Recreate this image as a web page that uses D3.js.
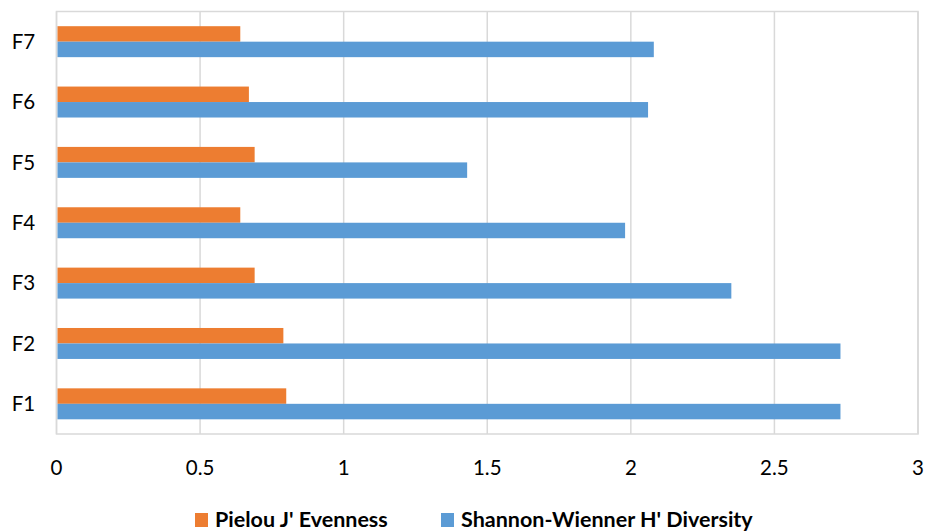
<!DOCTYPE html>
<meta charset="utf-8">
<head>
	<script src="https://d3js.org/d3.v7.min.js"></script>
</head>
<style type="text/css">
	body {
		margin: 0;
		background: #fff;
		font-family: Lato, "Open Sans", sans-serif;
	}
	svg { display: block; }
	.grid line { stroke: #d9d9d9; stroke-width: 1.5px; }
	.frame { fill: none; stroke: #d9d9d9; stroke-width: 1.5px; }
	.tick-label { font-size: 20.5px; fill: #000; }
	.legend text { font-size: 21.5px; font-weight: bold; fill: #000; }
</style>
<body>
<script>
	// sites, bottom to top
	var sites = ["F1", "F2", "F3", "F4", "F5", "F6", "F7"];
	var evenness = [0.80, 0.79, 0.69, 0.64, 0.69, 0.67, 0.64];
	var diversity = [2.73, 2.73, 2.35, 1.98, 1.43, 2.06, 2.08];
	var xTicks = [0, 0.5, 1, 1.5, 2, 2.5, 3];
	var seriesNames = ["Pielou J' Evenness", "Shannon-Wienner H' Diversity"];
	var colors = ["#ed7d31", "#5b9bd5"];

	var width = 926, height = 531;
	var margin = {top: 11.5, right: 8, bottom: 97, left: 56.5};
	var w = width - margin.left - margin.right,
		h = height - margin.top - margin.bottom;

	var svg = d3.select("body").append("svg")
		.attr("width", width)
		.attr("height", height);

	var g = svg.append("g")
		.attr("transform", "translate(" + margin.left + "," + margin.top + ")");

	var x = d3.scaleLinear().domain([0, 3]).range([0, w]);

	// top to bottom: F7 ... F1
	var y = d3.scaleBand()
		.domain(sites.slice().reverse())
		.range([0, h])
		.paddingInner(0.487)
		.paddingOuter(0.2435);

	var inner = d3.scaleBand()
		.domain([0, 1])
		.range([0, y.bandwidth()]);

	// vertical gridlines
	g.append("g").attr("class", "grid")
		.selectAll("line")
		.data(xTicks)
		.enter().append("line")
		.attr("x1", function(d) { return x(d); })
		.attr("x2", function(d) { return x(d); })
		.attr("y1", 0)
		.attr("y2", h);

	g.append("rect").attr("class", "frame")
		.attr("x", 0).attr("y", 0)
		.attr("width", w).attr("height", h);

	var rows = sites.map(function(s, i) {
		return {site: s, vals: [evenness[i], diversity[i]]};
	});

	var group = g.selectAll(".site")
		.data(rows)
		.enter().append("g")
		.attr("class", "site")
		.attr("transform", function(d) { return "translate(0," + y(d.site) + ")"; });

	group.selectAll("rect")
		.data(function(d) { return d.vals; })
		.enter().append("rect")
		.attr("x", x(0) + 1)
		.attr("y", function(d, i) { return inner(i); })
		.attr("height", inner.bandwidth())
		.attr("width", function(d) { return x(d) - x(0) - 1; })
		.style("fill", function(d, i) { return colors[i]; });

	// category labels
	g.selectAll(".cat")
		.data(sites)
		.enter().append("text")
		.attr("class", "tick-label cat")
		.attr("x", -33)
		.attr("y", function(d) { return y(d) + y.bandwidth() / 2; })
		.attr("dy", "0.35em")
		.attr("text-anchor", "middle")
		.text(function(d) { return d; });

	// x tick labels
	g.selectAll(".xt")
		.data(xTicks)
		.enter().append("text")
		.attr("class", "tick-label xt")
		.attr("x", function(d) { return x(d); })
		.attr("y", h + 40.5)
		.attr("text-anchor", "middle")
		.text(function(d) { return d; });

	// legend
	var legend = svg.append("g").attr("class", "legend");
	var legendX = [195, 441];
	seriesNames.forEach(function(name, i) {
		legend.append("rect")
			.attr("x", legendX[i]).attr("y", 513)
			.attr("width", 13).attr("height", 14)
			.style("fill", colors[i]);
		legend.append("text")
			.attr("x", legendX[i] + 20)
			.attr("y", 527)
			.text(name);
	});
</script>
</body>
